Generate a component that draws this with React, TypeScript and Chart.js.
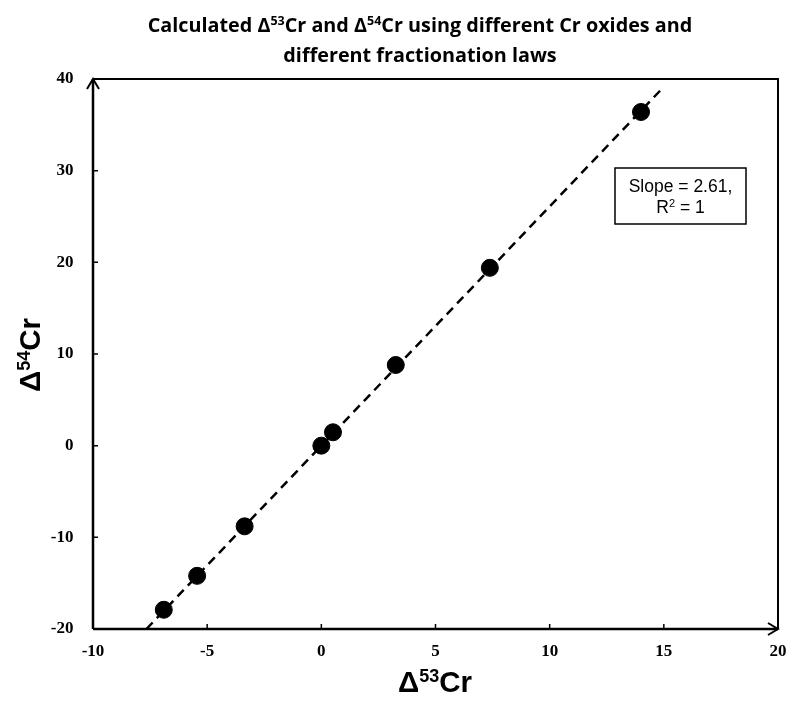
import React, { useEffect, useRef } from 'react';
import { Chart, registerables } from 'chart.js';

Chart.register(...registerables);

// Data
const delta53 = [-6.9, -5.44, -3.36, 0.0, 0.51, 3.26, 7.38, 14.0];
const delta54 = [-17.9, -14.2, -8.8, 0.0, 1.46, 8.8, 19.4, 36.4];
const fitX = [-7.66, 15.0];
const fitY = [-20.0, 39.15];
const xTickValues = [-10, -5, 0, 5, 10, 15, 20];
const yTickValues = [-20, -10, 0, 10, 20, 30, 40];
const titleLine1 = [
  { t: 'Calculated Δ', sup: false },
  { t: '53', sup: true },
  { t: 'Cr and Δ', sup: false },
  { t: '54', sup: true },
  { t: 'Cr using different Cr oxides and', sup: false },
];
const titleLine2 = [{ t: 'different fractionation laws', sup: false }];
const xTitle = [
  { t: 'Δ', sup: false },
  { t: '53', sup: true },
  { t: 'Cr', sup: false },
];
const yTitle = [
  { t: 'Δ', sup: false },
  { t: '54', sup: true },
  { t: 'Cr', sup: false },
];
const noteLine1 = [{ t: 'Slope = 2.61,', sup: false }];
const noteLine2 = [
  { t: 'R', sup: false },
  { t: '2', sup: true },
  { t: ' = 1', sup: false },
];

type Seg = { t: string; sup: boolean };

function drawRich(
  ctx: CanvasRenderingContext2D,
  segs: Seg[],
  cx: number,
  baseline: number,
  font: (size: number) => string,
  size: number,
  supSize: number,
  supRise: number
) {
  let total = 0;
  const widths = segs.map((s) => {
    ctx.font = font(s.sup ? supSize : size);
    const w = ctx.measureText(s.t).width;
    total += w;
    return w;
  });
  let x = cx - total / 2;
  ctx.textAlign = 'left';
  ctx.textBaseline = 'alphabetic';
  segs.forEach((s, i) => {
    ctx.font = font(s.sup ? supSize : size);
    ctx.fillText(s.t, x, s.sup ? baseline - supRise : baseline);
    x += widths[i];
  });
}

const decorPlugin = {
  id: 'decor',
  afterDraw(chart: any) {
    const ctx: CanvasRenderingContext2D = chart.ctx;
    const { left, right, top, bottom } = chart.chartArea;
    const xs = chart.scales.x;
    const ys = chart.scales.y;
    ctx.save();
    ctx.fillStyle = '#000';
    ctx.strokeStyle = '#000';

    // top & right border
    ctx.lineWidth = 2;
    ctx.beginPath();
    ctx.moveTo(left, top);
    ctx.lineTo(right, top);
    ctx.lineTo(right, bottom);
    ctx.stroke();

    // axes
    ctx.lineWidth = 2.5;
    ctx.beginPath();
    ctx.moveTo(left, bottom);
    ctx.lineTo(left, top);
    ctx.moveTo(left, bottom);
    ctx.lineTo(right, bottom);
    ctx.stroke();

    // inside tick marks
    ctx.lineWidth = 1.5;
    ctx.beginPath();
    yTickValues.forEach((v) => {
      const y = ys.getPixelForValue(v);
      ctx.moveTo(left, y);
      ctx.lineTo(left + 5, y);
    });
    xTickValues.forEach((v) => {
      const x = xs.getPixelForValue(v);
      ctx.moveTo(x, bottom);
      ctx.lineTo(x, bottom - 5);
    });
    ctx.stroke();

    // arrows
    ctx.lineWidth = 2;
    ctx.beginPath();
    ctx.moveTo(left - 6, top + 10);
    ctx.lineTo(left, top);
    ctx.lineTo(left + 6, top + 10);
    ctx.moveTo(right - 10, bottom - 6);
    ctx.lineTo(right, bottom);
    ctx.lineTo(right - 10, bottom + 6);
    ctx.stroke();

    // title
    const titleFont = (s: number) => `bold ${s}px "Open Sans", sans-serif`;
    drawRich(ctx, titleLine1, 420, 31.5, titleFont, 19.8, 12.5, 7);
    drawRich(ctx, titleLine2, 420, 62, titleFont, 19.8, 12.5, 7);

    // axis titles
    const axFont = (s: number) => `bold ${s}px "Liberation Sans", Arial, sans-serif`;
    drawRich(ctx, xTitle, 435, 692, axFont, 29.5, 18, 10.5);
    ctx.save();
    ctx.translate(40, 355);
    ctx.rotate(-Math.PI / 2);
    drawRich(ctx, yTitle, 0, 0, axFont, 29.5, 18, 10.5);
    ctx.restore();

    // note box
    const bx = 615, by = 168, bw = 131, bh = 56;
    ctx.lineWidth = 1.5;
    ctx.fillStyle = '#fff';
    ctx.fillRect(bx, by, bw, bh);
    ctx.strokeRect(bx, by, bw, bh);
    ctx.fillStyle = '#000';
    const noteFont = (s: number) => `${s}px "Liberation Sans", Arial, sans-serif`;
    drawRich(ctx, noteLine1, bx + bw / 2, 191.5, noteFont, 17.5, 11, 6);
    drawRich(ctx, noteLine2, bx + bw / 2, 213, noteFont, 17.5, 11, 6);

    ctx.restore();
  },
};

export default function App() {
  const ref = useRef<HTMLCanvasElement | null>(null);
  useEffect(() => {
    if (!ref.current) return;
    const points = delta53.map((x, i) => ({ x, y: delta54[i] }));
    const fit = fitX.map((x, i) => ({ x, y: fitY[i] }));
    const chart = new Chart(ref.current, {
      type: 'scatter',
      data: {
        datasets: [
          {
            type: 'line',
            data: fit,
            borderColor: '#000',
            borderWidth: 2.5,
            borderDash: [9, 6],
            pointRadius: 0,
            fill: false,
            order: 2,
          } as any,
          {
            data: points,
            backgroundColor: '#000',
            borderColor: '#000',
            pointRadius: 8.5,
            pointHoverRadius: 8.5,
            order: 1,
          },
        ],
      },
      options: {
        animation: false,
        responsive: false,
        maintainAspectRatio: false,
        events: [],
        layout: { padding: { top: 79, right: 22, left: 0, bottom: 0 } },
        plugins: {
          legend: { display: false },
          title: { display: false },
          tooltip: { enabled: false },
        },
        scales: {
          x: {
            type: 'linear',
            min: -10,
            max: 20,
            afterBuildTicks: (axis: any) => {
              axis.ticks = xTickValues.map((v) => ({ value: v }));
            },
            afterFit: (axis: any) => {
              axis.height = 79;
            },
            grid: { display: false, drawTicks: false },
            border: { display: false },
            ticks: {
              color: '#000',
              padding: 12,
              font: { family: '"Liberation Serif", "Times New Roman", serif', size: 17, weight: 'bold' },
            },
          },
          y: {
            type: 'linear',
            min: -20,
            max: 40,
            afterBuildTicks: (axis: any) => {
              axis.ticks = yTickValues.map((v) => ({ value: v }));
            },
            afterFit: (axis: any) => {
              axis.width = 93;
            },
            grid: { display: false, drawTicks: false },
            border: { display: false },
            ticks: {
              color: '#000',
              padding: 19.5,
              font: { family: '"Liberation Serif", "Times New Roman", serif', size: 17, weight: 'bold' },
            },
          },
        },
      },
      plugins: [decorPlugin],
    });
    return () => chart.destroy();
  }, []);
  return (
    <div style={{ position: 'fixed', left: 0, top: 0, width: 800, height: 708, background: '#fff' }}>
      <canvas ref={ref} width={800} height={708} style={{ display: 'block', width: 800, height: 708 }} />
    </div>
  );
}
